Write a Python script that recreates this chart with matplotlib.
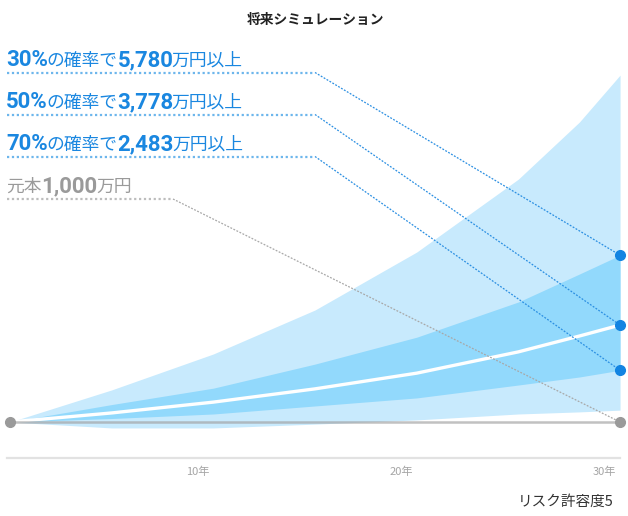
import numpy as np
import matplotlib
matplotlib.use('Agg')
import matplotlib.pyplot as plt

# Simulation bands (万円)
years = [0, 5, 10, 15, 20, 25, 28, 30]
outer_top = [1000, 1920, 2950, 4210, 5870, 7960, 9595, 10940]
inner_top = [1000, 1500, 1970, 2660, 3430, 4440, 5240, 5780]
median = [1000, 1260, 1570, 1950, 2400, 3010, 3464, 3778]
inner_bottom = [1000, 1100, 1230, 1460, 1690, 2060, 2290, 2483]
outer_bottom = [1000, 830, 830, 940, 1060, 1230, 1290, 1340]

principal = 1000
probs = ['30%', '50%', '70%']
prob_values = [5780, 3778, 2483]
tick_years = [10, 20, 30]

W, H = 628, 516
BLUE = '#1a87e0'
GRAY = '#9a9a9a'
JP = ['Noto Sans CJK JP', 'DejaVu Sans']
NUM = ['Roboto', 'Noto Sans CJK JP']

fig = plt.figure(figsize=(W / 100, H / 100), dpi=100)
ax = fig.add_axes([0, 0, 1, 1])
ax.set_xlim(-0.492, 30.39)
ax.set_ylim(-1693, 13092)
ax.axis('off')

# bands
ax.fill_between(years, outer_bottom, outer_top, color='#c8eafd', lw=0, zorder=1)
ax.fill_between(years, inner_bottom, inner_top, color='#92d9fc', lw=0, zorder=2)
ax.plot(years, median, color='white', lw=2.4, zorder=3, solid_capstyle='round')
ax.plot([years[0], years[-1]], [principal, principal], color='#a0a0a0', alpha=0.65,
        lw=1.8, zorder=4)


def pix2data(px, py):
    return ax.transData.inverted().transform((px, H - py))


def data2pix(x, y):
    dx, dy = ax.transData.transform((x, y))
    return dx, H - dy


renderer = fig.canvas.get_renderer()


def pieces(x, y, parts):
    # draw text runs one after another on a shared baseline
    for s, size, weight, color, fam in parts:
        t = fig.text(x / W, 1 - y / H, s, fontsize=size, fontweight=weight,
                     color=color, family=fam, ha='left', va='baseline')
        x = t.get_window_extent(renderer).x1
        if weight == 'bold':
            x -= 1.5


def leader(y_line, x_turn, end_val, color, hcolor):
    x0, y0 = pix2data(7, y_line)
    x1, _ = pix2data(x_turn, y_line)
    ax.plot([x0, x1], [y0, y0], color=hcolor, lw=1.6, ls=(0, (1, 1.2)), zorder=5)
    ax.plot([x1, years[-1]], [y0, end_val], color=color, lw=0.9, ls=(0, (1.5, 1.2)), zorder=5)


# labels with leader lines
for i, (p, v) in enumerate(zip(probs, prob_values)):
    base = 66 + i * 42
    pieces(6, base, [(p, 16, 'bold', BLUE, NUM),
                     ('の確率で', 12.8, 'normal', BLUE, JP),
                     (f'{v:,}', 16, 'bold', BLUE, NUM),
                     ('万円以上', 12.8, 'normal', BLUE, JP)])
    leader(base + 6.5, 315, v, '#2b8fe2', '#6db6ec')
    ax.plot(years[-1], v, 'o', color='#1284e2', ms=7, zorder=7)

pieces(6, 192, [('元本', 12.8, 'normal', GRAY, JP),
                (f'{principal:,}', 16, 'bold', GRAY, NUM),
                ('万円', 12.8, 'normal', GRAY, JP)])
leader(199, 173, principal, '#a8a8a8', '#bdbdbd')
ax.plot([years[0], years[-1]], [principal, principal], 'o', color=GRAY, ms=7, zorder=7)

# x axis line and tick labels
xa0, ya = pix2data(7, 458)
ax.plot([xa0, years[-1]], [ya, ya], color='#e2e2e2', lw=1.6, zorder=1)
for ty in tick_years:
    px, _ = data2pix(ty, 0)
    fig.text((px - 4) / W, 1 - 472 / H, f'{ty}年', fontsize=8, color='#a5a5a5',
             family=JP, ha='right', va='center')

fig.text(315 / W, 1 - 20 / H, '将来シミュレーション', fontsize=9.9, fontweight='bold',
         color='#222222', family=JP, ha='center', va='center')
fig.text(614 / W, 1 - 502 / H, 'リスク許容度5', fontsize=10.5, color='#333333',
         family=JP, ha='right', va='center')

fig.savefig('out.png', dpi=100)
